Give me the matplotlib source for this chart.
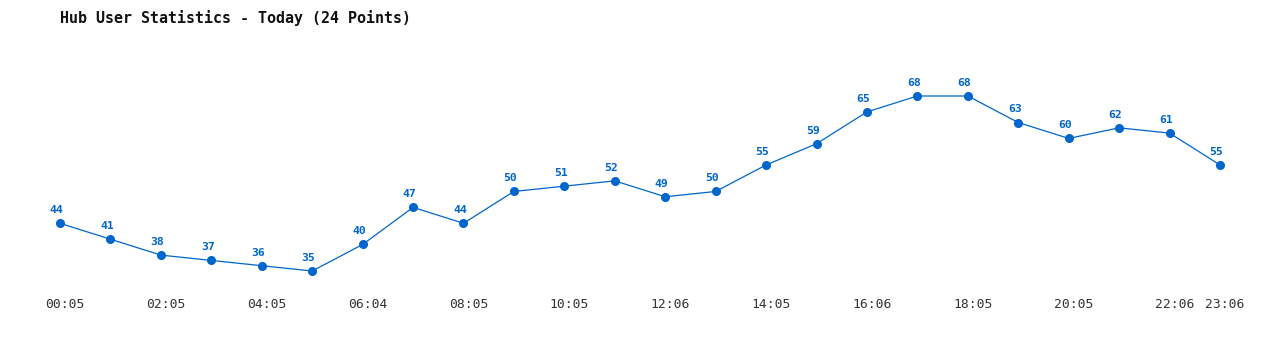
import matplotlib
matplotlib.use("Agg")
import matplotlib.pyplot as plt
import matplotlib.transforms as mtrans

# hub users, one point per hour
times = ["00:05", "01:05", "02:05", "03:05", "04:05", "05:05", "06:04", "07:05",
         "08:05", "09:05", "10:05", "11:05", "12:06", "13:05", "14:05", "15:05",
         "16:06", "17:05", "18:05", "19:05", "20:05", "21:05", "22:06", "23:06"]
users = [44, 41, 38, 37, 36, 35, 40, 47, 44, 50, 51, 52,
         49, 50, 55, 59, 65, 68, 68, 63, 60, 62, 61, 55]
shown_ticks = [0, 2, 4, 6, 8, 10, 12, 14, 16, 18, 20, 22, 23]

blue = "#0066cc"
mono = "DejaVu Sans Mono"

fig = plt.figure(figsize=(12.8, 3.5), dpi=100)
ax = fig.add_axes([0, 60 / 350, 1, 290 / 350])

x = list(range(len(users)))
ax.plot(x, users, color=blue, lw=0.9, marker="o", ms=5.5, mfc=blue, mec=blue)
for i, v in zip(x, users):
    ax.annotate(str(v), (i, v), xytext=(-2.6, 9.4), textcoords="offset points",
                ha="center", va="center", color=blue, fontsize=8.2,
                fontweight="bold", family=mono)

ax.set_xlim(-60 / 50.435, (1280 - 60) / 50.435)
ax.set_ylim(31.42, 86.1)
ax.set_xticks(shown_ticks)
ax.set_xticklabels([times[i] for i in shown_ticks], family=mono, fontsize=9.4,
                   color="#333333")
ax.tick_params(axis="x", length=0, pad=6)
# the time labels sit a little right of their points
shift = mtrans.ScaledTranslation(5 / 100, 0, fig.dpi_scale_trans)
for lbl in ax.get_xticklabels():
    lbl.set_transform(lbl.get_transform() + shift)
ax.set_yticks([])
for s in ax.spines.values():
    s.set_visible(False)

fig.text(60 / 1280, 1 - 18 / 350, "Hub User Statistics - Today (24 Points)",
         family=mono, fontsize=10.8, fontweight="bold", color="#111111",
         ha="left", va="center")

fig.savefig("out.png", dpi=100)
